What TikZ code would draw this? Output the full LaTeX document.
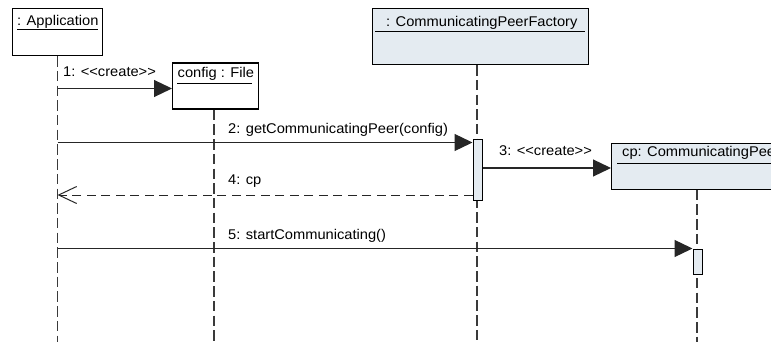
\documentclass[tikz,border=0pt]{standalone}
\usepackage{fontspec}
\setmainfont[FakeStretch=1.04]{Liberation Sans}
\usetikzlibrary{arrows.meta}
\definecolor{objfill}{HTML}{E4EBF1}
\definecolor{lifecol}{HTML}{3A3A3A}
\tikzset{
  objbox/.style={draw=black, line width=1.2pt, fill=white, anchor=north west, inner sep=0pt},
  bluebox/.style={objbox, fill=objfill},
  actbox/.style={draw=black, line width=1pt, fill=objfill, anchor=north west, inner sep=0pt},
  lifeline/.style={draw=lifecol, line width=1.8pt, dash pattern=on 10.5pt off 4.2pt},
  txt/.style={anchor=base west, inner sep=0pt, font=\fontsize{14.1}{16}\selectfont},
  uline/.style={draw=black, line width=0.9pt},
  msg/.style={draw=black!85, line width=1.2pt, -{Triangle[length=18pt, width=17pt]}},
  reply/.style={draw=black!85, line width=1pt, dash pattern=on 9pt off 5.5pt, -{Straight Barb[length=18pt, width=17pt, line width=1pt]}},
}
\begin{document}
\begin{tikzpicture}[x=1pt, y=-1pt]
\useasboundingbox (0,0) rectangle (771,342);

% object boxes
\node[objbox, minimum width=90pt, minimum height=47pt] (app) at (12,8) {};
\node[objbox, minimum width=86pt, minimum height=46pt] (cfg) at (172,62.5) {};
\node[bluebox, minimum width=216pt, minimum height=56pt] (fac) at (372,8) {};
\node[bluebox, minimum width=170pt, minimum height=45.5pt] (cp) at (611,143) {};

% titles
\node[txt] (appt) at (17,25.5) {: Application};
\draw[uline] (17,29.5) -- (97.5,29.5);
\node[txt] (cfgt) at (177.5,77.5) {config : File};
\draw[uline] (177,83) -- (252,83);
\node[txt] (fact) at (386,26.5) {: CommunicatingPeerFactory};
\draw[uline] (375,31.5) -- (585,31.5);
\node[txt] (cpt) at (622,156.5) {cp: CommunicatingPeer};
\draw[uline] (617,163) -- (775,163);

% lifeline end points
\coordinate (append) at (57.5,342);
\coordinate (cfgend) at (214,342);
\coordinate (facend) at (477,342);
\coordinate (cpend) at (697,342);

% lifelines
\draw[lifeline] (app.south -| append) -- (append);
\draw[lifeline] (cfg.south -| cfgend) -- (cfgend);
\draw[lifeline] (fac.south -| facend) -- (facend);
\draw[lifeline] (cp.south -| cpend) -- (cpend);

% activations
\node[actbox, minimum width=9.5pt, minimum height=60pt] (facact) at (472.5,139.5) {};
\node[actbox, minimum width=9.5pt, minimum height=25pt] (cpact) at (692.5,248.5) {};

% messages
\coordinate (m1s) at (57.5,88.5);
\draw[msg] (m1s) -- (m1s -| cfg.west);
\node[txt] (m1) at (63,76.5) {1: <{}<create>{}>};

\coordinate (m2s) at (57.5,142.5);
\draw[msg] (m2s) -- (m2s -| facact.west);
\node[txt] (m2) at (228,133.5) {2: getCommunicatingPeer(config)};

\coordinate (m3s) at (482,168);
\draw[msg] (m3s -| facact.east) -- (m3s -| cp.west);
\node[txt] (m3) at (499,156) {3: <{}<create>{}>};

\coordinate (m4s) at (472.5,195);
\coordinate (m4e) at (57.5,195);
\draw[reply] (m4s) -- (m4e);
\node[txt] (m4) at (228,184.5) {4: cp};

\coordinate (m5s) at (57.5,248.5);
\draw[msg] (m5s) -- (m5s -| cpact.west);
\node[txt] (m5) at (228,239) {5: startCommunicating()};
\end{tikzpicture}
\end{document}
